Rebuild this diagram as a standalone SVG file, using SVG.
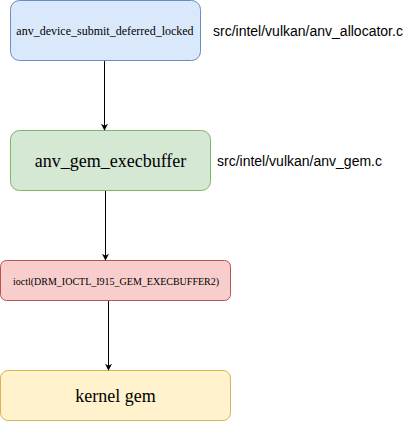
<svg xmlns="http://www.w3.org/2000/svg" width="406" height="421" viewBox="0 0 406 421">
<defs>
<marker id="arr" viewBox="0 0 10 10" refX="9" refY="5" markerWidth="7" markerHeight="7" markerUnits="userSpaceOnUse" orient="auto">
<path d="M0,0 L10,5 L0,10 L3,5 Z" fill="#000"/>
</marker>
</defs>
<style>
.n text{font-family:"Liberation Serif",serif;text-anchor:middle;dominant-baseline:central;fill:#000}
.lbl{font-family:"Liberation Sans",Arial,sans-serif;font-size:14px;fill:#000;dominant-baseline:central}
.c line{stroke:#000;stroke-width:1;marker-end:url(#arr)}
</style>
<rect width="406" height="421" fill="#fff"/>
<g id="n1" class="n">
<rect x="10.5" y="0.5" width="190" height="60" rx="9" fill="#dae8fc" stroke="#6c8ebf"/>
<text x="105" y="31" font-size="12px">anv_device_submit_deferred_locked</text>
</g>
<g id="n2" class="n">
<rect x="10.5" y="130.5" width="200" height="60" rx="9" fill="#d5e8d4" stroke="#82b366"/>
<text x="110.5" y="161" font-size="18px">anv_gem_execbuffer</text>
</g>
<g id="n3" class="n">
<rect x="0.5" y="260.5" width="230" height="40" rx="6" fill="#f8cecc" stroke="#b85450"/>
<text x="116" y="281" font-size="10px">ioctl(DRM_IOCTL_I915_GEM_EXECBUFFER2)</text>
</g>
<g id="n4" class="n">
<rect x="0.5" y="370.5" width="230" height="50" rx="7.5" fill="#fff2cc" stroke="#d6b656"/>
<text x="115.5" y="396" font-size="18px">kernel gem</text>
</g>
<text class="lbl" x="213" y="31">src/intel/vulkan/anv_allocator.c</text>
<text class="lbl" x="217" y="161">src/intel/vulkan/anv_gem.c</text>
<g id="connectors" class="c">
<line x1="104.5" y1="61" x2="104.5" y2="130"/>
<line x1="105.5" y1="191" x2="105.5" y2="260"/>
<line x1="108.5" y1="301" x2="108.5" y2="370"/>
</g>
</svg>
